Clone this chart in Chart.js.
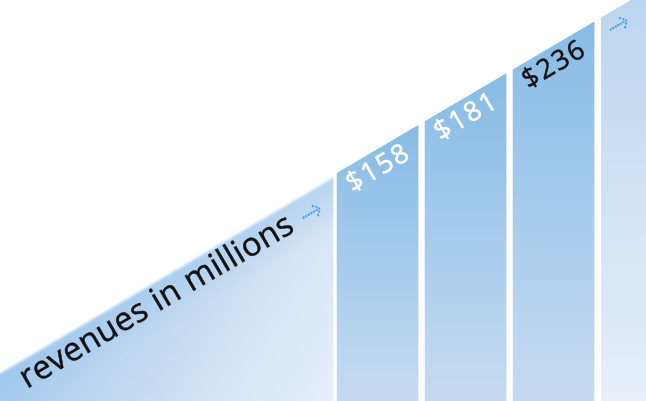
<!DOCTYPE html>
<html>
<head>
<meta charset="utf-8">
<script src="https://cdn.jsdelivr.net/npm/chart.js@4.4.1/dist/chart.umd.min.js"></script>
<style>
  html, body { margin: 0; padding: 0; background: #fff; }
  #wrap { width: 646px; height: 401px; }
</style>
</head>
<body>
<div id="wrap"><canvas id="revChart" width="646" height="401"></canvas></div>
<script>
// ================== DATA ==================
const slots = [0, 1, 2];                       // bar positions, left to right
const revenue = [158, 181, 236];               // revenues in millions
const revenueLabels = ['$158', '$181', '$236'];
const axisTitle = 'revenues in millions';

// ================== DIAGONAL LOOK ==================
const TOP_Y0 = 371, TOP_SLOPE = 0.588;   // line that cuts the bar tops
const ANGLE = Math.atan(TOP_SLOPE);
const topLine = x => TOP_Y0 - TOP_SLOPE * x;
const bgLine = x => topLine(x) + 3;      // the wedge sits a touch lower, soft edge

function dottedArrow(ctx, tipX, tipY) {
  ctx.save();
  ctx.translate(tipX, tipY);
  ctx.rotate(-ANGLE);
  ctx.fillStyle = '#4ea6e4';
  const dot = (x, y) => { ctx.beginPath(); ctx.arc(x, y, 1.2, 0, Math.PI * 2); ctx.fill(); };
  for (let i = 0; i <= 6; i++) dot(-3 * i - 1, 0);
  for (let i = 1; i <= 2; i++) { dot(-2.6 * i, -2.6 * i); dot(-2.6 * i, 2.6 * i); }
  ctx.restore();
}

function wedgePath(ctx, w, h) {
  ctx.beginPath();
  ctx.moveTo(-10, bgLine(-10));
  ctx.lineTo(w + 10, bgLine(w + 10));
  ctx.lineTo(w + 10, h + 10);
  ctx.lineTo(-10, h + 10);
  ctx.closePath();
}

// slanted text, with a hairline stroke so it reads as heavy as the print
function slantText(ctx, text, x, y, font, spacing, color, align) {
  ctx.save();
  ctx.translate(x, y);
  ctx.rotate(-ANGLE);
  ctx.font = font;
  ctx.letterSpacing = spacing;
  ctx.textAlign = align;
  ctx.textBaseline = align === 'center' ? 'middle' : 'alphabetic';
  ctx.fillStyle = color;
  ctx.strokeStyle = color;
  ctx.lineWidth = 0.5;
  ctx.fillText(text, 0, 0);
  ctx.strokeText(text, 0, 0);
  ctx.restore();
}

const diagonalPlugin = {
  id: 'diagonal',
  beforeDatasetsDraw(chart) {
    const { ctx, width, height } = chart;
    const x = chart.scales.x;

    // light wedge under the diagonal
    ctx.save();
    ctx.filter = 'blur(1.5px)';
    const bg = ctx.createLinearGradient(0, 371, 250, 521);
    bg.addColorStop(0, '#a6cbee');
    bg.addColorStop(0.35, '#bed7f1');
    bg.addColorStop(0.7, '#d6e5f5');
    bg.addColorStop(1, '#e6eef9');
    ctx.fillStyle = bg;
    wedgePath(ctx, width, height);
    ctx.fill();
    // a bluer glow running along the edge
    const nx = Math.sin(ANGLE), ny = Math.cos(ANGLE);
    const x0 = 200, y0 = bgLine(x0);
    const glow = ctx.createLinearGradient(x0, y0, x0 + 45 * nx, y0 + 45 * ny);
    glow.addColorStop(0, 'rgba(150,195,235,0.45)');
    glow.addColorStop(1, 'rgba(150,195,235,0)');
    ctx.fillStyle = glow;
    wedgePath(ctx, width, height);
    ctx.fill();
    ctx.restore();

    // clip everything else to the bar diagonal
    ctx.save();
    ctx.beginPath();
    ctx.moveTo(0, topLine(0));
    ctx.lineTo(width, topLine(width));
    ctx.lineTo(width, height);
    ctx.lineTo(0, height);
    ctx.closePath();
    ctx.clip();

    // next (empty) column after the last bar
    const bandLeft = x.getPixelForValue(slots[slots.length - 1] + 0.5) + 3.5;
    const band = ctx.createLinearGradient(0, 0, 0, height);
    band.addColorStop(0, '#bcd6f0');
    band.addColorStop(1, '#e8eff9');
    ctx.fillStyle = '#ffffff';
    ctx.fillRect(bandLeft - 7, 0, 7, height);
    ctx.fillStyle = band;
    ctx.fillRect(bandLeft, 0, width - bandLeft, height);
  },
  afterDatasetsDraw(chart) {
    const { ctx } = chart;
    ctx.restore();

    // value labels along the cut
    const meta = chart.getDatasetMeta(0);
    meta.data.forEach((bar, i) => {
      const cx = bar.x + 1;
      const color = i === meta.data.length - 1 ? '#111111' : '#ffffff';
      slantText(ctx, revenueLabels[i], cx, topLine(cx) + 20, '27px "Open Sans"', '2px', color, 'center');
    });

    // axis title on the slope
    slantText(ctx, axisTitle, 27, 389, '32.5px "Open Sans"', '0.5px', '#111111', 'left');

    dottedArrow(ctx, 320, 208);
    dottedArrow(ctx, 627, 20);
  }
};

new Chart(document.getElementById('revChart'), {
  type: 'bar',
  data: {
    datasets: [{
      data: slots.map((s, i) => ({ x: s, y: revenue[i] })),
      barThickness: 88,
      borderWidth: { left: 3.5, right: 3.5, top: 0, bottom: 0 },
      borderColor: '#ffffff',
      borderSkipped: false,
      backgroundColor: (c) => {
        const chart = c.chart;
        if (!chart.chartArea) return '#a9cdee';
        const cx = chart.scales.x.getPixelForValue(slots[c.dataIndex] ?? 0);
        const g = chart.ctx.createLinearGradient(0, topLine(cx) - 20, 0, chart.height);
        g.addColorStop(0, '#88bce6');
        g.addColorStop(1, '#c6dbf1');
        return g;
      }
    }]
  },
  options: {
    responsive: false,
    animation: false,
    layout: { padding: 0 },
    plugins: { legend: { display: false }, tooltip: { enabled: false } },
    scales: {
      x: { type: 'linear', display: false, offset: false, min: -4.29, max: 3.05 },
      y: { display: false, min: 0, max: 215 }
    }
  },
  plugins: [diagonalPlugin]
});
</script>
</body>
</html>
